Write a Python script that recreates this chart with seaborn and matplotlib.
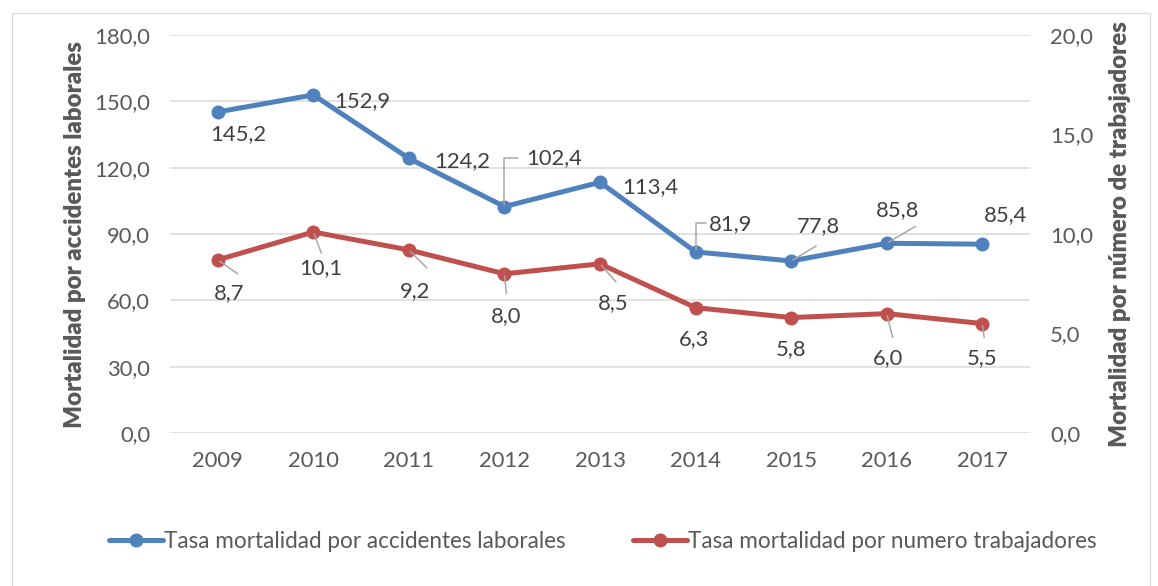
import matplotlib
matplotlib.use("Agg")
import matplotlib.pyplot as plt
from matplotlib.patches import Rectangle
import seaborn as sns
import pandas as pd

years = [2009, 2010, 2011, 2012, 2013, 2014, 2015, 2016, 2017]
tasa_accidentes = [145.2, 152.9, 124.2, 102.4, 113.4, 81.9, 77.8, 85.8, 85.4]
tasa_trabajadores = [8.7, 10.1, 9.2, 8.0, 8.5, 6.3, 5.8, 6.0, 5.5]

serie_1 = "Tasa mortalidad por accidentes laborales"
serie_2 = "Tasa mortalidad por numero trabajadores"

sns.set_style("white")
plt.rcParams["font.family"] = ["Lato", "DejaVu Sans"]

azul = "#4F81BD"
rojo = "#C0504D"
gris = "#595959"

df = pd.DataFrame({"x": range(len(years)), "acc": tasa_accidentes, "trab": tasa_trabajadores})

fig = plt.figure(figsize=(1158 / 72, 586 / 72), dpi=72)
fig.patches.append(Rectangle((12 / 1158, -0.01), 1138 / 1158, 573 / 586 + 0.01, transform=fig.transFigure,
                             fill=False, edgecolor="#d9d9d9", linewidth=1.2))
ax = fig.add_axes([170 / 1158, 153 / 586, 860 / 1158, 398 / 586])
ax2 = ax.twinx()

sns.lineplot(data=df, x="x", y="acc", ax=ax, color=azul, linewidth=5, marker="o",
             markersize=14, markeredgewidth=0, label=serie_1, legend=False, zorder=3)
sns.lineplot(data=df, x="x", y="trab", ax=ax2, color=rojo, linewidth=5, marker="o",
             markersize=14, markeredgewidth=0, label=serie_2, legend=False, zorder=3)

ax.set_xlim(-0.5, len(years) - 0.5)
ax.set_ylim(0, 180)
ax2.set_ylim(0, 20)
ax.set_yticks(range(0, 181, 30))
ax2.set_yticks(range(0, 21, 5))
ax.set_yticklabels([f"{v:.1f}".replace(".", ",") for v in range(0, 181, 30)])
ax2.set_yticklabels([f"{v:.1f}".replace(".", ",") for v in range(0, 21, 5)])
ax.set_xticks(range(len(years)))
ax.set_xticklabels(years)
ax.grid(axis="y", color="#d9d9d9", linewidth=1.5)
ax.set_axisbelow(True)
for a in (ax, ax2):
    for s in a.spines.values():
        s.set_visible(False)
    a.tick_params(length=0, labelsize=22, colors=gris)
ax.tick_params(axis="y", pad=20)
ax2.tick_params(axis="y", pad=20)
ax.tick_params(axis="x", pad=18)
ax.set_xlabel("")
ax.set_ylabel("Mortalidad por accidentes laborales", fontsize=24, fontweight="heavy", color=gris, labelpad=8)
ax2.set_ylabel("Mortalidad por número de trabajadores", fontsize=24, fontweight="heavy", color=gris, labelpad=16)

# posición de etiquetas (offset px) y extremo de línea guía (None = sin guía, "L" = codo)
off_acc = [(20, -22), (49, -6), (53, -3), (50, 48), (50, -5), (35, 28), (27, 35), (11, 33), (23, 29)]
guia_acc = [None, None, None, ("L", 14, 49), None, ("L", 10, 29), ("d", 25, 15), ("d", 29, 17), None]
off_trab = [(11, -33), (7, -36), (6, -41), (2, -42), (13, -39), (-1, -31), (0, -32), (1, -44), (0, -35)]
guia_trab = [("d", 20, -14), ("d", 8, -21), ("d", 18, -18), ("d", 2, -20), ("d", 16, -18),
             None, None, ("d", 6, -24), ("d", 2, -14)]


def etiquetar(eje, vals, offs, guias):
    for i, v in enumerate(vals):
        g = guias[i]
        if g is not None:
            estilo = "angle,angleA=0,angleB=90,rad=0" if g[0] == "L" else "arc3"
            eje.annotate("", xy=(i, v), xytext=(g[1], g[2]), textcoords="offset points",
                         arrowprops=dict(arrowstyle="-", color="#a6a6a6", lw=1.5, shrinkA=0, shrinkB=2,
                                         connectionstyle=estilo), zorder=4)
        eje.annotate(f"{v:.1f}".replace(".", ","), xy=(i, v), xytext=offs[i], textcoords="offset points",
                     ha="center", va="center", fontsize=22, color="#404040", zorder=4)


etiquetar(ax, tasa_accidentes, off_acc, guia_acc)
etiquetar(ax2, tasa_trabajadores, off_trab, guia_trab)

h1, l1 = ax.get_legend_handles_labels()
h2, l2 = ax2.get_legend_handles_labels()
fig.legend(h1 + h2, l1 + l2, loc="center", bbox_to_anchor=(603 / 1158, 1 - 541 / 586), ncol=2,
           frameon=False, fontsize=22.5, labelcolor=gris, handlelength=2.4, handletextpad=0.05,
           columnspacing=3.0)

fig.savefig("out.png", dpi=72)
